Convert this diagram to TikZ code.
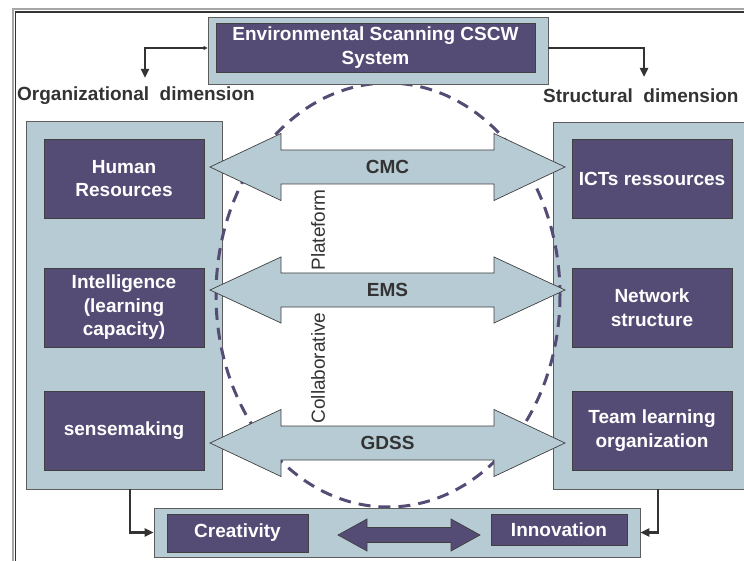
\documentclass[tikz,border=0pt]{standalone}
\usepackage{fontspec}
\setmainfont{Liberation Sans}
\usetikzlibrary{arrows.meta, positioning, calc}

\definecolor{panelblue}{HTML}{B7CBD4}
\definecolor{boxpurple}{HTML}{544C75}
\definecolor{edgegray}{HTML}{404040}
\definecolor{textgray}{HTML}{333333}

\newcommand{\diagfont}{\fontsize{19pt}{23.5pt}\selectfont}
% fat double arrow: style, left tip, right tip, head length, head half width, shaft half width
\newcommand{\dblarrow}[6]{%
  \path[#1] (#2) -- ++(#4,#5) -- ++(0,{#6-#5}) -- ($(#3)+(-#4,#6)$) -- ++(0,{#5-#6})
    -- (#3) -- ++(-#4,-#5) -- ++(0,{#5-#6}) -- ($(#2)+(#4,-#6)$) -- ++(0,{#6-#5}) -- cycle;}

\begin{document}
\begin{tikzpicture}[x=1pt, y=-1pt, >={Triangle[length=9pt,width=8pt]},
    panel/.style={draw=edgegray!85, fill=panelblue, line width=0.8pt, inner sep=0pt},
    darkbox/.style={draw=edgegray, fill=boxpurple, line width=0.8pt, text=white,
        font=\diagfont\bfseries, align=center, inner sep=0pt,
        minimum width=160pt, minimum height=79pt},
    fatarrow/.style={draw=edgegray, fill=panelblue, line width=0.7pt},
    darkarrow/.style={draw=edgegray, fill=boxpurple, line width=0.7pt},
    arrowlabel/.style={font=\diagfont\bfseries, text=textgray, inner sep=0pt},
    sidelabel/.style={font=\diagfont, text=textgray, inner sep=0pt},
    dimlabel/.style={font=\diagfont\bfseries, text=textgray, inner sep=0pt},
    link/.style={draw=textgray, line width=2.8pt}]
    \useasboundingbox (0,0) rectangle (744,561);
    \clip (0,0) rectangle (744,561);

    % Frame
    \draw[gray!70, line width=2pt] (12.8,561) |- (744,9.3);
    \draw[textgray, line width=1.3pt] (15.7,561) |- (744,12);

    % Side panels
    \node[panel, minimum width=196pt, minimum height=368pt] (orgpanel) at (124,305) {};
    \node[panel, minimum width=210pt, minimum height=367pt] (strpanel) at (658,305.5) {};

    \node[darkbox] (human) at (124,178.5) {Human\\Resources};
    \node[darkbox] (intel) at (124,307.5) {Intelligence\\(learning\\capacity)};
    \node[darkbox] (sense) at (124,430.5) {sensemaking};
    \node[darkbox] (icts) at (652,178.5) {ICTs ressources};
    \node[darkbox] (network) at (652,307.5) {Network\\structure};
    \node[darkbox] (team) at (652,430.5) {Team learning\\organization};

    % Platform ring
    \draw[boxpurple, line width=3pt, dash pattern=on 12pt off 8pt]
        (388,295) ellipse [x radius=172, y radius=212];

    % Tools between the two dimensions
    \coordinate (cmcL) at (210,167);  \coordinate (cmcR) at (565,167);
    \coordinate (emsL) at (210,290);  \coordinate (emsR) at (565,290);
    \coordinate (gdssL) at (210,443); \coordinate (gdssR) at (565,443);
    \dblarrow{fatarrow}{cmcL}{cmcR}{71}{33.5}{17}
    \dblarrow{fatarrow}{emsL}{emsR}{71}{33}{17}
    \dblarrow{fatarrow}{gdssL}{gdssR}{71}{33.5}{17}
    \node[arrowlabel] (cmc) at ($(cmcL)!0.5!(cmcR)$) {CMC};
    \node[arrowlabel] (ems) at ($(emsL)!0.5!(emsR)$) {EMS};
    \node[arrowlabel] (gdss) at ($(gdssL)!0.5!(gdssR)$) {GDSS};

    \node[sidelabel, rotate=90] (plat) at (318,230) {Plateform};
    \node[sidelabel, rotate=90] (collab) at (318,368) {Collaborative};

    % Scanning system on top
    \node[panel, minimum width=340pt, minimum height=67pt] (scanpanel) at (378,50.5) {};
    \node[darkbox, minimum width=319pt, minimum height=49pt] (scan) at (375.5,47.5)
        {Environmental Scanning CSCW\\System};

    \node[dimlabel, anchor=west] (orgdim) at (17,96) {Organizational\ \ dimension};
    \node[dimlabel, anchor=west] (strdim) at (543,96) {Structural\ \ dimension};

    \coordinate (orgtip) at (145,78);
    \coordinate (strtip) at (644,77);
    \draw[link, {Triangle[length=4pt,width=4pt]}->] ([yshift=2.5pt]scanpanel.west) -| (orgtip);
    \draw[link, ->] ([yshift=2.5pt]scanpanel.east) -| (strtip);

    % Outcomes
    \node[panel, minimum width=486pt, minimum height=49pt] (outcome) at (397,532.5) {};
    \node[darkbox, minimum width=141pt, minimum height=38pt] (creat) at (237.5,533) {Creativity};
    \node[darkbox, minimum width=136pt, minimum height=31pt] (innov) at (559,529.5) {Innovation};
    \coordinate (creatL) at (338,535);
    \coordinate (innovR) at (480,535);
    \dblarrow{darkarrow}{creatL}{innovR}{29}{16}{7.5}

    \draw[link, ->] ([xshift=6pt]orgpanel.south) |- (outcome.west);
    \draw[link, ->] (strpanel.south) |- (outcome.east);
\end{tikzpicture}
\end{document}
